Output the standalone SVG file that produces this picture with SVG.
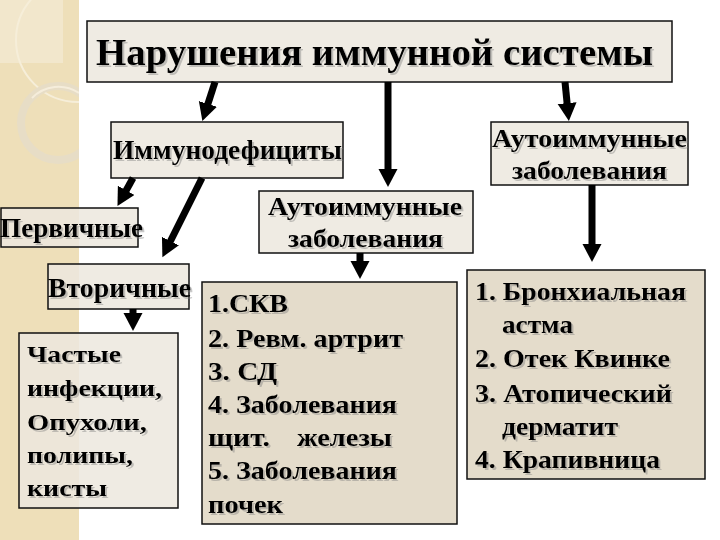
<svg xmlns="http://www.w3.org/2000/svg" width="720" height="540" viewBox="0 0 720 540">
<defs>
<style>
.box{fill:#ece8de;fill-opacity:0.85;stroke:#111;stroke-width:1.5}
.list{fill:#e4dccb;stroke:#111;stroke-width:1.5}
.t{font-family:"Liberation Serif","Times New Roman",serif;font-weight:bold;fill:#000;filter:url(#sh)}
.c{stroke:#000;stroke-width:7;fill:none;marker-end:url(#ah)}
</style>
<filter id="sh" x="-5%" y="-20%" width="110%" height="140%">
<feDropShadow dx="2" dy="2" stdDeviation="0.5" flood-color="#777" flood-opacity="0.4"/>
</filter>
<clipPath id="strip"><rect x="0" y="0" width="79" height="540"/></clipPath>
<marker id="ah" markerUnits="userSpaceOnUse" markerWidth="20" markerHeight="20" refX="1" refY="9.5" orient="auto">
<path d="M0,0 L18,9.5 L0,19 z" fill="#000"/>
</marker>
</defs>
<rect width="720" height="540" fill="#fff"/>
<g id="background" clip-path="url(#strip)">
<rect x="0" y="0" width="79" height="540" fill="#eedfb9"/>
<rect x="0" y="0" width="63" height="63" fill="#f2e7cc"/>
<circle cx="78" cy="40" r="62" fill="none" stroke="#f6eed9" stroke-width="2"/>
<circle cx="58" cy="123" r="37" fill="none" stroke="#e7ddc6" stroke-width="8"/>
<path d="M32,98 A37,37 0 0 1 79,93" fill="none" stroke="#f5eddb" stroke-width="2"/>
</g>
<g id="n-title"><rect class="box" x="87" y="21" width="585" height="61"/>
<text class="t" x="96" y="65" font-size="38" textLength="557" lengthAdjust="spacingAndGlyphs">Нарушения иммунной системы</text></g>
<g id="n-immunodef"><rect class="box" x="111" y="122" width="232" height="56"/>
<text class="t" x="113" y="159" font-size="27" textLength="229" lengthAdjust="spacingAndGlyphs">Иммунодефициты</text></g>
<g id="n-auto-right"><rect class="box" x="491" y="122" width="197" height="63"/>
<text class="t" x="492" y="147" font-size="26" textLength="195" lengthAdjust="spacingAndGlyphs">Аутоиммунные</text>
<text class="t" x="512" y="179" font-size="26" textLength="155" lengthAdjust="spacingAndGlyphs">заболевания</text></g>
<g id="n-auto-mid"><rect class="box" x="259" y="191" width="214" height="62"/>
<text class="t" x="268" y="215" font-size="26" textLength="194" lengthAdjust="spacingAndGlyphs">Аутоиммунные</text>
<text class="t" x="288" y="247" font-size="26" textLength="155" lengthAdjust="spacingAndGlyphs">заболевания</text></g>
<g id="n-primary"><rect class="box" x="1" y="208" width="137" height="39"/>
<text class="t" x="0" y="237" font-size="27" textLength="143" lengthAdjust="spacingAndGlyphs">Первичные</text></g>
<g id="n-secondary"><rect class="box" x="48" y="264" width="141" height="45"/>
<text class="t" x="48" y="297" font-size="27" textLength="143" lengthAdjust="spacingAndGlyphs">Вторичные</text></g>
<g id="n-frequent"><rect class="box" x="19" y="333" width="159" height="175"/>
<text class="t" x="27" y="362" font-size="24" textLength="94" lengthAdjust="spacingAndGlyphs">Частые</text>
<text class="t" x="27" y="396" font-size="24" textLength="135" lengthAdjust="spacingAndGlyphs">инфекции,</text>
<text class="t" x="27" y="430" font-size="24" textLength="120" lengthAdjust="spacingAndGlyphs">Опухоли,</text>
<text class="t" x="27" y="463" font-size="24" textLength="106" lengthAdjust="spacingAndGlyphs">полипы,</text>
<text class="t" x="27" y="496" font-size="24" textLength="80" lengthAdjust="spacingAndGlyphs">кисты</text></g>
<g id="n-list-auto"><rect class="list" x="202" y="282" width="255" height="242"/>
<text class="t" x="208" y="312" font-size="25" textLength="80" lengthAdjust="spacingAndGlyphs">1.СКВ</text>
<text class="t" x="208" y="347" font-size="25" textLength="195" lengthAdjust="spacingAndGlyphs">2. Ревм. артрит</text>
<text class="t" x="208" y="380" font-size="25" textLength="69" lengthAdjust="spacingAndGlyphs">3. СД</text>
<text class="t" x="208" y="413" font-size="25" textLength="189" lengthAdjust="spacingAndGlyphs">4. Заболевания</text>
<text class="t" x="208" y="446" font-size="25" textLength="62" lengthAdjust="spacingAndGlyphs">щит.</text>
<text class="t" x="297" y="446" font-size="25" textLength="95" lengthAdjust="spacingAndGlyphs">железы</text>
<text class="t" x="208" y="479" font-size="25" textLength="189" lengthAdjust="spacingAndGlyphs">5. Заболевания</text>
<text class="t" x="208" y="513" font-size="25" textLength="75" lengthAdjust="spacingAndGlyphs">почек</text></g>
<g id="n-list-allergy"><rect class="list" x="467" y="270" width="238" height="209"/>
<text class="t" x="475" y="300" font-size="25" textLength="211" lengthAdjust="spacingAndGlyphs">1. Бронхиальная</text>
<text class="t" x="502" y="333" font-size="25" textLength="71" lengthAdjust="spacingAndGlyphs">астма</text>
<text class="t" x="475" y="367" font-size="25" textLength="195" lengthAdjust="spacingAndGlyphs">2. Отек Квинке</text>
<text class="t" x="475" y="402" font-size="25" textLength="197" lengthAdjust="spacingAndGlyphs">3. Атопический</text>
<text class="t" x="502" y="435" font-size="25" textLength="116" lengthAdjust="spacingAndGlyphs">дерматит</text>
<text class="t" x="475" y="468" font-size="25" textLength="185" lengthAdjust="spacingAndGlyphs">4. Крапивница</text></g>
<g id="connectors">
<line class="c" x1="215" y1="82" x2="207.6" y2="104.9"/>
<line class="c" x1="388" y1="82" x2="388" y2="170"/>
<line class="c" x1="565" y1="82" x2="567.2" y2="104.1"/>
<line class="c" x1="133" y1="178" x2="125.7" y2="191.2"/>
<line class="c" x1="202" y1="178" x2="170" y2="242"/>
<line class="c" x1="360" y1="253" x2="360" y2="262"/>
<line class="c" x1="133" y1="309" x2="133" y2="314"/>
<line class="c" x1="592" y1="185" x2="592" y2="245"/>
</g>
</svg>
